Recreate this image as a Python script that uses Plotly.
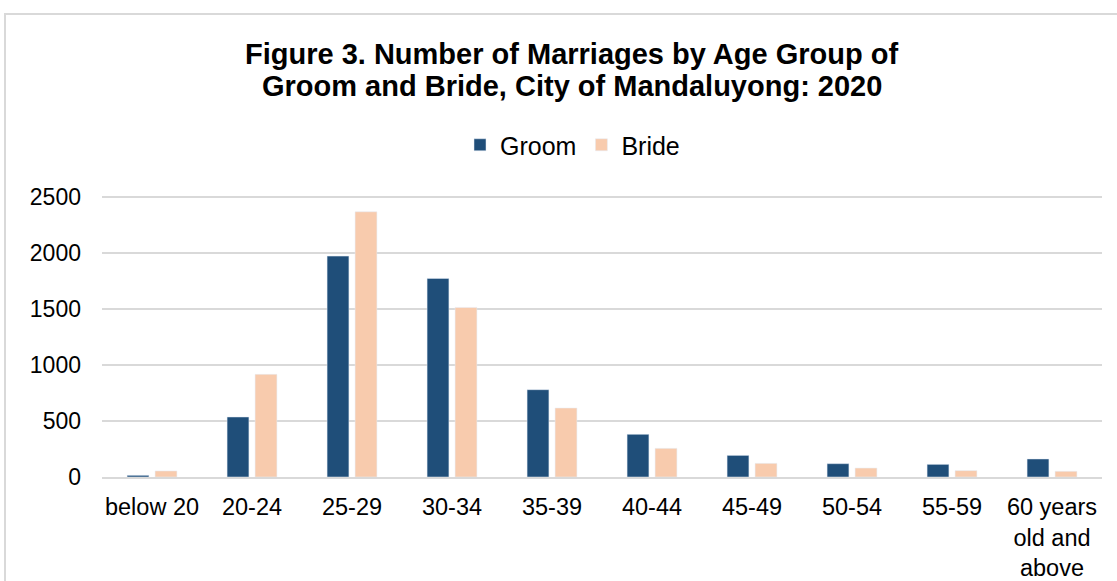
import plotly.graph_objects as go

categories = ["below 20", "20-24", "25-29", "30-34", "35-39", "40-44",
              "45-49", "50-54", "55-59", "60 years<br>old and<br>above"]
groom = [15, 536, 1973, 1774, 780, 381, 193, 119, 113, 161]
bride = [54, 917, 2369, 1515, 616, 256, 122, 80, 57, 51]
y_ticks = [0, 500, 1000, 1500, 2000, 2500]
title_lines = ["Figure 3. Number of Marriages by Age Group of",
               "Groom and Bride, City of Mandaluyong: 2020"]

W, H = 1117, 581
ml, mr, mt, mb = 102, W - 1102, 196, H - 477
pw = W - ml - mr
ph = H - mt - mb


def px_x(p):
    return (p - ml) / pw


def px_y(p):
    return (H - mb - p) / ph


FONT = "Liberation Sans, Arial, sans-serif"

fig = go.Figure()
fig.add_trace(go.Bar(name="Groom", x=categories, y=groom, marker_color="#1F4E79"))
fig.add_trace(go.Bar(name="Bride", x=categories, y=bride, marker_color="#F8CBAD"))

annotations = []
for line, yc in zip(title_lines, [54, 86]):
    annotations.append(dict(
        text="<b>" + line + "</b>", xref="paper", yref="paper",
        x=px_x(571.5), y=px_y(yc), xanchor="center", yanchor="middle",
        showarrow=False, font=dict(family=FONT, size=29, color="#000000"),
    ))

fig.update_layout(
    width=W, height=H,
    margin=dict(l=ml, r=mr, t=mt, b=mb, autoexpand=False),
    paper_bgcolor="white", plot_bgcolor="white",
    font=dict(family=FONT, color="#000000", size=23),
    barmode="group", bargap=0.44, bargroupgap=0.22,
    annotations=annotations,
    legend=dict(
        orientation="h", x=px_x(474 - 14), xanchor="left", y=px_y(145), yanchor="middle",
        font=dict(size=25), itemwidth=30, traceorder="normal",
    ),
    xaxis=dict(showgrid=False, showline=True, linecolor="#D9D9D9", linewidth=2,
               ticks="", tickfont=dict(size=23.5), ticklabelstandoff=8,
               automargin=False),
    yaxis=dict(range=[0, 2510], tickvals=y_ticks, showgrid=True, gridcolor="#D9D9D9",
               gridwidth=1.5, zeroline=False, showline=False, ticks="",
               ticklabelstandoff=20, tickfont=dict(size=23), automargin=False),
    shapes=[dict(type="rect", xref="paper", yref="paper",
                 x0=px_x(5), x1=px_x(1117 + 20), y0=px_y(581 + 20), y1=px_y(14),
                 line=dict(color="#D9D9D9", width=2), fillcolor="rgba(0,0,0,0)",
                 layer="below")],
)

fig.write_html("out.html", config={"displayModeBar": False},
               post_script="document.body.style.margin='0';")
